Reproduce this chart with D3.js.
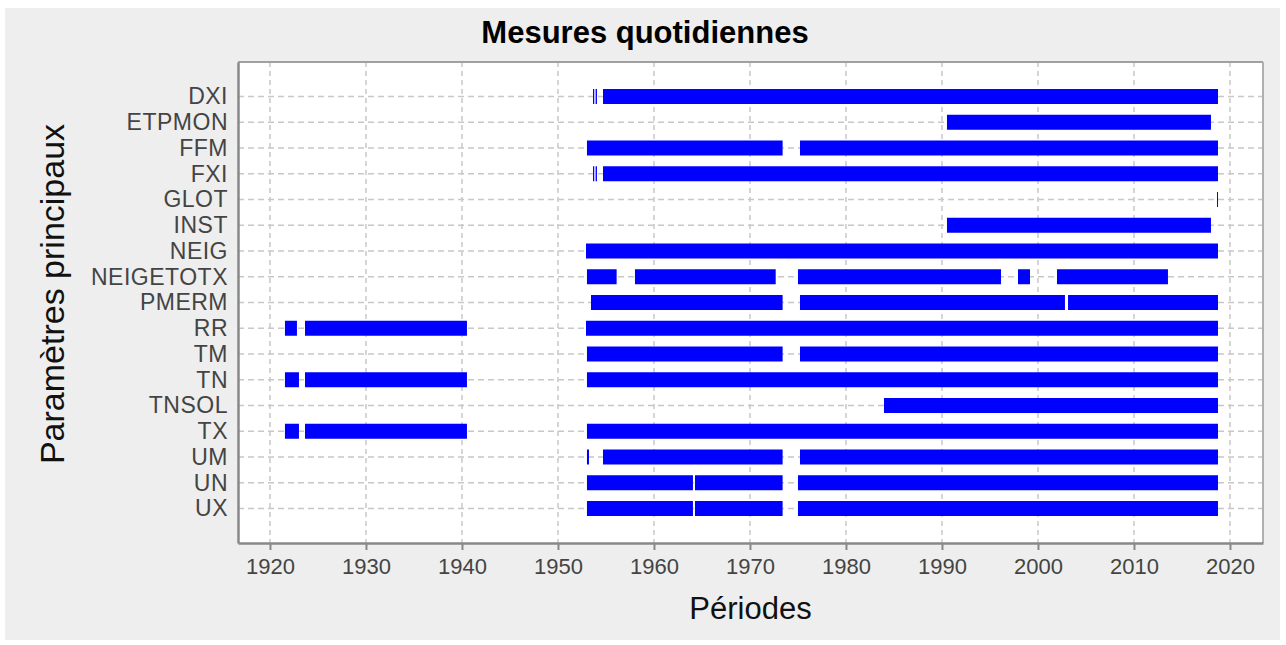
<!DOCTYPE html>
<html><head><meta charset="utf-8">
<script src="https://cdn.jsdelivr.net/npm/d3@7/dist/d3.min.js"></script>
<style>body{margin:0;background:#fff;}svg{display:block;font-family:"Liberation Sans",Arial,sans-serif;}</style>
</head><body>
<svg id="chart" width="1286" height="645"></svg>
<script>
const chartTitle = "Mesures quotidiennes";
const xTitle = "Périodes";
const yTitle = "Paramètres principaux";
const categories = ["DXI","ETPMON","FFM","FXI","GLOT","INST","NEIG","NEIGETOTX","PMERM","RR","TM","TN","TNSOL","TX","UM","UN","UX"];
const xTicks = [1920,1930,1940,1950,1960,1970,1980,1990,2000,2010,2020];
// Measurement periods (parallel arrays): parameter, start year, end year
const segParam = [
  "DXI","DXI","DXI",
  "ETPMON",
  "FFM","FFM",
  "FXI","FXI","FXI",
  "GLOT",
  "INST",
  "NEIG",
  "NEIGETOTX","NEIGETOTX","NEIGETOTX","NEIGETOTX","NEIGETOTX",
  "PMERM","PMERM","PMERM",
  "RR","RR","RR",
  "TM","TM",
  "TN","TN","TN",
  "TNSOL",
  "TX","TX","TX",
  "UM","UM","UM",
  "UN","UN","UN",
  "UX","UX","UX"
];
const segStart = [
  1953.65,1953.92,1954.69,
  1990.52,
  1953.02,1975.21,
  1953.65,1953.92,1954.69,
  2018.65,
  1990.52,
  1952.92,
  1953.02,1958.02,1975.00,1997.92,2001.98,
  1953.44,1975.21,2003.13,
  1921.56,1923.65,1952.92,
  1953.02,1975.21,
  1921.56,1923.65,1953.02,
  1983.96,
  1921.56,1923.65,1953.02,
  1953.02,1954.69,1975.21,
  1953.02,1964.27,1975.00,
  1953.02,1964.27,1975.00
];
const segEnd = [
  1953.78,1954.06,2018.75,
  2018.02,
  1973.40,2018.75,
  1953.78,1954.06,2018.75,
  2018.75,
  2018.02,
  2018.75,
  1956.11,1972.68,1996.15,1999.17,2013.54,
  1973.40,2002.81,2018.75,
  1922.81,1940.52,2018.75,
  1973.40,2018.75,
  1923.02,1940.52,2018.75,
  2018.75,
  1923.02,1940.52,2018.75,
  1953.23,1973.40,2018.75,
  1964.06,1973.40,2018.75,
  1964.06,1973.40,2018.75
];

const svg = d3.select("#chart");
// panel background
svg.append("rect").attr("x",5).attr("y",8).attr("width",1275).attr("height",632).attr("fill","#eeeeee");

const L = 238, R = 1263, T = 62, B = 543;
const x = d3.scaleLinear().domain([1916.67, 2023.44]).range([L, R]);
const y = d3.scalePoint().domain(categories).range([T, B]).padding(1.34);

svg.append("rect").attr("x",L).attr("y",T).attr("width",R-L).attr("height",B-T).attr("fill","#ffffff");

// grid
const grid = svg.append("g");
grid.selectAll("line.v").data(xTicks).join("line")
  .attr("x1",d=>x(d)).attr("x2",d=>x(d)).attr("y1",T).attr("y2",B)
  .attr("stroke","#c8c8c8").attr("stroke-width",1.5).attr("stroke-dasharray","5,4");
grid.selectAll("line.h").data(categories).join("line")
  .attr("x1",L).attr("x2",R).attr("y1",d=>y(d)).attr("y2",d=>y(d))
  .attr("stroke","#c8c8c8").attr("stroke-width",1.5).attr("stroke-dasharray","6,4");

// bars
const segs = segParam.map((p,i)=>({p, s:segStart[i], e:segEnd[i]}));
svg.append("g").selectAll("rect").data(segs).join("rect")
  .attr("x",d=>x(d.s)).attr("width",d=>Math.max(1,x(d.e)-x(d.s)))
  .attr("y",d=>y(d.p)-7.5).attr("height",15).attr("fill","#0000ff");

// frame
svg.append("line").attr("x1",L).attr("x2",R).attr("y1",T).attr("y2",T).attr("stroke","#a0a0a0").attr("stroke-width",2);
svg.append("line").attr("x1",R).attr("x2",R).attr("y1",T).attr("y2",B).attr("stroke","#b0b0b0").attr("stroke-width",2);

// x axis
const xAxis = svg.append("g").attr("transform",`translate(0,${B})`)
  .call(d3.axisBottom(x).tickValues(xTicks).tickFormat(d3.format("d")).tickSizeInner(7).tickSizeOuter(0).tickPadding(8));
xAxis.select(".domain").attr("stroke","#888").attr("stroke-width",2.5);
xAxis.selectAll(".tick line").attr("stroke","#888").attr("stroke-width",2);
xAxis.selectAll(".tick text").attr("font-size",22).attr("fill","#444").attr("font-family","Liberation Sans, Arial, sans-serif");

// y axis
const yAxis = svg.append("g").attr("transform",`translate(${L},0)`)
  .call(d3.axisLeft(y).tickSize(0).tickPadding(10));
yAxis.select(".domain").attr("stroke","#888").attr("stroke-width",2.5);
yAxis.selectAll(".tick text").attr("font-size",23).attr("fill","#444").attr("letter-spacing","0.5px")
  .attr("font-family","Liberation Sans, Arial, sans-serif");

// titles
svg.append("text").attr("x",645).attr("y",43).attr("text-anchor","middle")
  .attr("font-size",31).attr("font-weight","bold").attr("fill","#000").text(chartTitle);
svg.append("text").attr("x",(L+R)/2).attr("y",619).attr("text-anchor","middle")
  .attr("font-size",31).attr("fill","#111").text(xTitle);
svg.append("text").attr("transform",`translate(64,294) rotate(-90)`).attr("text-anchor","middle")
  .attr("font-size",34).attr("fill","#111").text(yTitle);
</script>
</body></html>
